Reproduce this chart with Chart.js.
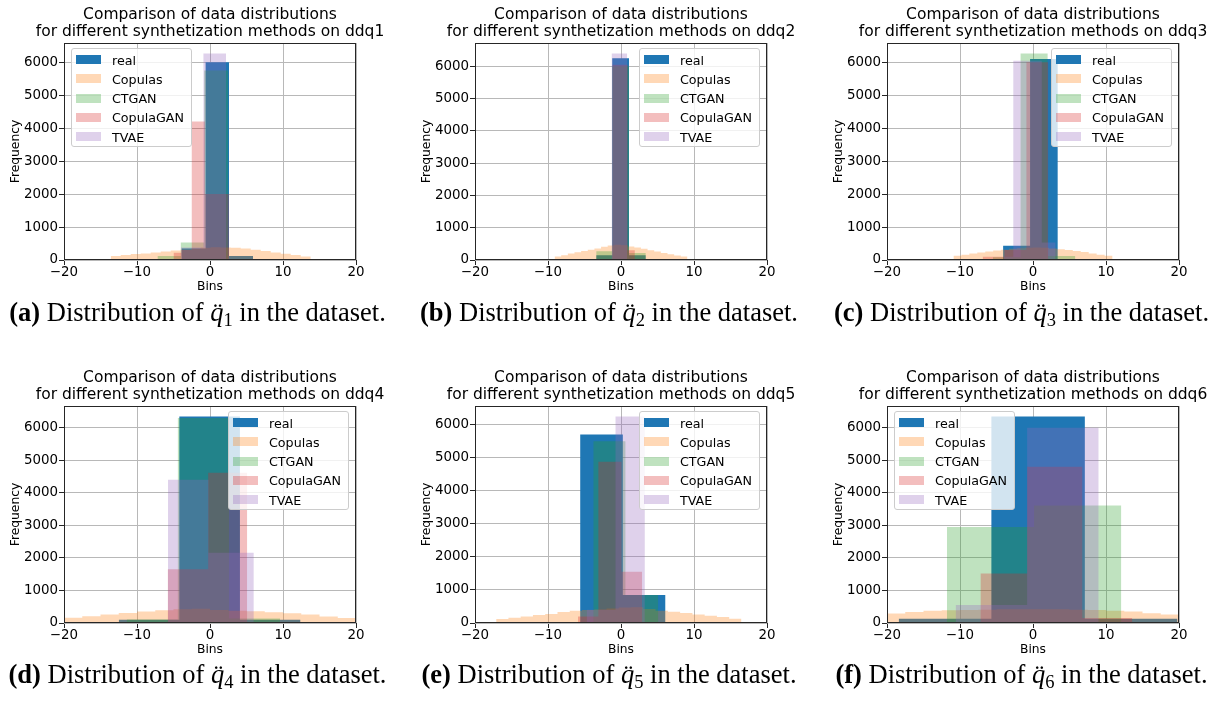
<!DOCTYPE html>
<html>
<head>
<meta charset="utf-8">
<title>Distributions of ddq1-ddq6 per synthetization method</title>
<script src="https://cdn.jsdelivr.net/npm/chart.js@4.4.1/dist/chart.umd.min.js"></script>
<style>
  html, body { margin: 0; padding: 0; background: #fff; }
  #fig { position: relative; width: 1217px; height: 720px; overflow: hidden; font-family: 'DejaVu Sans', sans-serif; }
  .panel { position: absolute; width: 420px; height: 298px; }
  .panel canvas { position: absolute; left: 0; top: 0; }
  .legend { position: absolute; box-sizing: border-box; width: 121px; height: 99px;
            background: rgba(255,255,255,0.8); border: 1px solid #cccccc; border-radius: 3px;
            font-family: 'DejaVu Sans', sans-serif; font-size: 12.7px; color: #000; }
  .legend .sw { position: absolute; left: 4px; width: 25px; height: 9px; }
  .legend .lb { position: absolute; left: 40px; height: 16px; line-height: 16px; white-space: nowrap; }
  .caption { position: absolute; width: 500px; text-align: center; white-space: nowrap;
             font-family: 'Liberation Serif', 'Times New Roman', serif; font-size: 26.5px;
             line-height: 30px; color: #000; }
  .caption sub { font-size: 70%; vertical-align: -0.28em; line-height: 0; }
</style>
</head>
<body>
<div id="fig"></div>
<script>
// ---- series and axes ----
const SERIES_NAMES = ['real', 'Copulas', 'CTGAN', 'CopulaGAN', 'TVAE'];
const SERIES_COLORS = ['rgba(31,119,180,1)', 'rgba(255,127,14,0.3)', 'rgba(44,160,44,0.3)',
                       'rgba(214,39,40,0.3)', 'rgba(148,103,189,0.3)'];
const X_TICKS = [-20, -10, 0, 10, 20];
const Y_TICKS = [0, 1000, 2000, 3000, 4000, 5000, 6000];
const PANEL_NAMES = ['ddq1', 'ddq2', 'ddq3', 'ddq4', 'ddq5', 'ddq6'];
const PANEL_LETTERS = ['a', 'b', 'c', 'd', 'e', 'f'];
const LEGEND_SIDE = ['left', 'right', 'right', 'right', 'right', 'left'];

// ---- ddq1 ----
const ddq1RealEdges = [-3.9, -0.6, 2.6, 5.9];
const ddq1RealCounts = [350, 6000, 120];
const ddq1CopulasRange = [-13.6, 13.8];
const ddq1CopulasCounts = [120, 150, 180, 200, 230, 260, 290, 320, 345, 370, 385, 380, 375, 350, 310, 270, 230, 190, 150, 110];
const ddq1CtganEdges = [-7.2, -4.0, -0.8, 2.5];
const ddq1CtganCounts = [120, 530, 5750];
const ddq1CopulaganEdges = [-5.0, -3.9, -2.5, -0.7, 2.6];
const ddq1CopulaganCounts = [220, 300, 4200, 2000];
const ddq1TvaeEdges = [-4.0, -0.9, 2.2];
const ddq1TvaeCounts = [380, 6270];

// ---- ddq2 ----
const ddq2RealEdges = [-3.4, -1.2, 1.1, 3.4];
const ddq2RealCounts = [150, 6250, 150];
const ddq2CopulasRange = [-9.1, 9.1];
const ddq2CopulasCounts = [110, 150, 200, 240, 280, 320, 360, 410, 450, 470, 460, 420, 390, 350, 300, 260, 220, 180, 140, 110];
const ddq2CtganEdges = [-3.4, -1.2, 1.1, 3.4];
const ddq2CtganCounts = [270, 6000, 220];
const ddq2CopulaganEdges = [-1.2, 0.9, 1.9];
const ddq2CopulaganCounts = [6050, 300];
const ddq2TvaeEdges = [-1.3, 0.85];
const ddq2TvaeCounts = [6400];

// ---- ddq3 ----
const ddq3RealEdges = [-4.1, -0.4, 3.4];
const ddq3RealCounts = [430, 6100];
const ddq3CopulasRange = [-10.9, 10.9];
const ddq3CopulasCounts = [130, 160, 200, 230, 260, 290, 310, 340, 360, 375, 380, 370, 350, 330, 300, 270, 240, 200, 160, 130];
const ddq3CtganEdges = [-5.5, -1.7, 2.0, 5.8];
const ddq3CtganCounts = [80, 6270, 120];
const ddq3CopulaganEdges = [-6.9, -3.9, -0.9, 2.1];
const ddq3CopulaganCounts = [100, 300, 6000];
const ddq3TvaeEdges = [-4.0, -2.7, 1.2, 3.1];
const ddq3TvaeCounts = [100, 6050, 530];

// ---- ddq4 ----
const ddq4RealEdges = [-12.5, -4.2, 4.1, 12.4];
const ddq4RealCounts = [100, 6350, 100];
const ddq4CopulasRange = [-20, 20];
const ddq4CopulasCounts = [160, 210, 260, 310, 350, 390, 420, 440, 400, 380, 360, 330, 300, 260, 200, 150];
const ddq4CtganEdges = [-11.4, -4.4, 2.6, 9.6];
const ddq4CtganCounts = [110, 6300, 140];
const ddq4CopulaganEdges = [-5.8, -0.25, 5.1];
const ddq4CopulaganCounts = [1650, 4620];
const ddq4TvaeEdges = [-5.75, -0.2, 6.0];
const ddq4TvaeCounts = [4400, 2160];

// ---- ddq5 ----
const ddq5RealEdges = [-5.6, 0.25, 6.1];
const ddq5RealCounts = [5700, 850];
const ddq5CopulasRange = [-17.1, 16.5];
const ddq5CopulasCounts = [120, 160, 200, 240, 270, 330, 370, 390, 410, 440, 470, 480, 420, 370, 340, 300, 260, 220, 180, 130];
const ddq5CtganEdges = [-3.8, 0.6, 5.1];
const ddq5CtganCounts = [5500, 850];
const ddq5CopulaganEdges = [-5.9, -3.1, 0.07, 2.9];
const ddq5CopulaganCounts = [200, 4880, 1550];
const ddq5TvaeEdges = [-4.7, -0.75, 3.27];
const ddq5TvaeCounts = [400, 6250];

// ---- ddq6 ----
const ddq6RealEdges = [-18.4, -5.7, 7.1, 19.8];
const ddq6RealCounts = [130, 6350, 130];
const ddq6CopulasRange = [-20, 20];
const ddq6CopulasCounts = [290, 340, 380, 390, 400, 410, 420, 420, 420, 420, 410, 400, 380, 350, 300, 260];
const ddq6CtganEdges = [-11.8, 0.15, 12.1];
const ddq6CtganCounts = [2950, 3610];
const ddq6CopulaganEdges = [-7.2, -0.8, 6.75, 13.6];
const ddq6CopulaganCounts = [1520, 4800, 150];
const ddq6TvaeEdges = [-10.6, -0.8, 9.0];
const ddq6TvaeCounts = [550, 6000];

// ---- page geometry ----
const PANEL_LEFT = [0, 411, 823];
const PANEL_TOP = [0, 363];
const CAPTION_CX = [197.5, 609, 1021.5];
const CAPTION_CY = [312, 674];

// equal-width bin edges over [lo, hi]
function uniformEdges(range, n) {
  const lo = range[0], w = (range[1] - lo) / n;
  const e = [];
  for (let i = 0; i <= n; i++) e.push(lo + i * w);
  return e;
}

// a histogram as a stepped outline: one point per left bin edge, closing at the last edge
function histPoints(edges, counts) {
  const pts = counts.map((c, i) => ({ x: edges[i], y: c }));
  pts.push({ x: edges[edges.length - 1], y: 0 });
  return pts;
}

const PANEL_SERIES = [
  [[ddq1RealEdges, ddq1RealCounts], [uniformEdges(ddq1CopulasRange, ddq1CopulasCounts.length), ddq1CopulasCounts],
   [ddq1CtganEdges, ddq1CtganCounts], [ddq1CopulaganEdges, ddq1CopulaganCounts], [ddq1TvaeEdges, ddq1TvaeCounts]],
  [[ddq2RealEdges, ddq2RealCounts], [uniformEdges(ddq2CopulasRange, ddq2CopulasCounts.length), ddq2CopulasCounts],
   [ddq2CtganEdges, ddq2CtganCounts], [ddq2CopulaganEdges, ddq2CopulaganCounts], [ddq2TvaeEdges, ddq2TvaeCounts]],
  [[ddq3RealEdges, ddq3RealCounts], [uniformEdges(ddq3CopulasRange, ddq3CopulasCounts.length), ddq3CopulasCounts],
   [ddq3CtganEdges, ddq3CtganCounts], [ddq3CopulaganEdges, ddq3CopulaganCounts], [ddq3TvaeEdges, ddq3TvaeCounts]],
  [[ddq4RealEdges, ddq4RealCounts], [uniformEdges(ddq4CopulasRange, ddq4CopulasCounts.length), ddq4CopulasCounts],
   [ddq4CtganEdges, ddq4CtganCounts], [ddq4CopulaganEdges, ddq4CopulaganCounts], [ddq4TvaeEdges, ddq4TvaeCounts]],
  [[ddq5RealEdges, ddq5RealCounts], [uniformEdges(ddq5CopulasRange, ddq5CopulasCounts.length), ddq5CopulasCounts],
   [ddq5CtganEdges, ddq5CtganCounts], [ddq5CopulaganEdges, ddq5CopulaganCounts], [ddq5TvaeEdges, ddq5TvaeCounts]],
  [[ddq6RealEdges, ddq6RealCounts], [uniformEdges(ddq6CopulasRange, ddq6CopulasCounts.length), ddq6CopulasCounts],
   [ddq6CtganEdges, ddq6CtganCounts], [ddq6CopulaganEdges, ddq6CopulaganCounts], [ddq6TvaeEdges, ddq6TvaeCounts]]
];

const fmtTick = v => (v < 0 ? '\u2212' + Math.abs(v) : String(v));

Chart.defaults.font.family = "'DejaVu Sans', sans-serif";
Chart.defaults.color = '#000';

// black frame around the plotting area
const framePlugin = {
  id: 'frame',
  afterDraw(chart) {
    const { ctx, chartArea: a } = chart;
    ctx.save();
    ctx.strokeStyle = '#262626';
    ctx.lineWidth = 1;
    ctx.strokeRect(Math.round(a.left) + 0.5, Math.round(a.top) + 0.5,
                   Math.round(a.right - a.left) - 1, Math.round(a.bottom - a.top) - 1);
    ctx.restore();
  }
};

const GRID = { color: '#b8b8b8', lineWidth: 1, tickColor: '#262626', tickLength: 5, drawTicks: true };

function buildLegend(panel, chart, side) {
  const box = document.createElement('div');
  box.className = 'legend';
  SERIES_NAMES.forEach((name, i) => {
    const cy = 10.5 + i * 19.3;
    const sw = document.createElement('div');
    sw.className = 'sw';
    sw.style.top = (cy - 4.5) + 'px';
    sw.style.background = SERIES_COLORS[i];
    const lb = document.createElement('div');
    lb.className = 'lb';
    lb.style.top = (cy - 7) + 'px';
    lb.textContent = name;
    box.appendChild(sw);
    box.appendChild(lb);
  });
  const a = chart.chartArea;
  box.style.top = (a.top + 5) + 'px';
  box.style.left = (side === 'left' ? a.left + 7 : a.right - 7 - 121) + 'px';
  panel.appendChild(box);
}

const fig = document.getElementById('fig');

PANEL_NAMES.forEach((name, p) => {
  const col = p % 3, row = Math.floor(p / 3);
  const panel = document.createElement('div');
  panel.className = 'panel';
  panel.style.left = PANEL_LEFT[col] + 'px';
  panel.style.top = PANEL_TOP[row] + 'px';
  const canvas = document.createElement('canvas');
  canvas.width = 420;
  canvas.height = 298;
  panel.appendChild(canvas);
  fig.appendChild(panel);

  const series = PANEL_SERIES[p];
  let peak = 0;
  series.forEach(s => s[1].forEach(c => { if (c > peak) peak = c; }));
  const yMax = peak * 1.05;

  const datasets = series.map((s, i) => ({
    label: SERIES_NAMES[i],
    data: histPoints(s[0], s[1]),
    stepped: true,
    fill: 'origin',
    backgroundColor: SERIES_COLORS[i],
    borderWidth: 0,
    pointRadius: 0,
    order: SERIES_NAMES.length - i
  }));

  const chart = new Chart(canvas, {
    type: 'line',
    data: { datasets },
    plugins: [framePlugin],
    options: {
      responsive: false,
      animation: false,
      devicePixelRatio: 1,
      events: [],
      layout: { padding: { left: 0, right: 0, top: 0, bottom: 0 } },
      plugins: {
        legend: { display: false },
        tooltip: { enabled: false },
        title: {
          display: true,
          text: ['Comparison of data distributions',
                 'for different synthetization methods on ' + name],
          font: { size: 15.5, weight: 'normal', lineHeight: 1.08 },
          color: '#000',
          padding: { top: 6.5, bottom: 3.1 }
        }
      },
      scales: {
        x: {
          type: 'linear', min: -20, max: 20, z: 1,
          afterBuildTicks: s => { s.ticks = X_TICKS.map(v => ({ value: v })); },
          afterFit: s => { s.height = 38; },
          grid: GRID,
          border: { display: false },
          ticks: { font: { size: 13.4, lineHeight: 1.0 }, color: '#000', padding: 1,
                   maxRotation: 0, autoSkip: false, callback: v => fmtTick(v) },
          title: { display: true, text: 'Bins', font: { size: 12.3 }, color: '#000',
                   padding: { top: 0, bottom: 4 } }
        },
        y: {
          type: 'linear', min: 0, max: yMax, z: 1,
          afterBuildTicks: s => { s.ticks = Y_TICKS.map(v => ({ value: v })); },
          afterFit: s => { s.width = 64; },
          grid: GRID,
          border: { display: false },
          ticks: { font: { size: 13.4 }, color: '#000', padding: 1, callback: v => String(v) },
          title: { display: true, text: 'Frequency', font: { size: 12.3 }, color: '#000',
                   padding: { top: 8.4, bottom: 0 } }
        },
        // empty right-hand gutter that balances the y axis, so the title centres over the plot
        gutter: {
          type: 'linear', position: 'right', min: 0, max: yMax,
          afterFit: s => { s.width = 64; },
          grid: { display: false },
          border: { display: false },
          ticks: { display: false }
        }
      }
    }
  });

  buildLegend(panel, chart, LEGEND_SIDE[p]);

  const cap = document.createElement('div');
  cap.className = 'caption';
  cap.style.left = (CAPTION_CX[col] - 250) + 'px';
  cap.style.top = (CAPTION_CY[row] - 15) + 'px';
  cap.innerHTML = '<b>(' + PANEL_LETTERS[p] + ')</b> Distribution of <i>q\u0308</i><sub>' + (p + 1) +
                  '</sub> in the dataset.';
  fig.appendChild(cap);
});
</script>
</body>
</html>
